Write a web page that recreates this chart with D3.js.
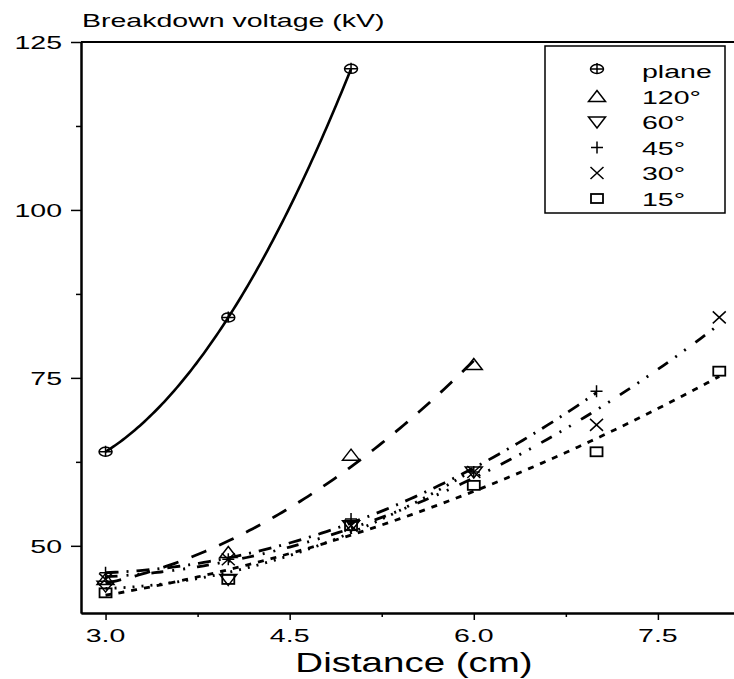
<!DOCTYPE html>
<html>
<head>
<meta charset="utf-8">
<script src="https://cdn.jsdelivr.net/npm/d3@7"></script>
<style>
  body { margin: 0; background: #fff; }
  text { font-family: "Liberation Sans", Arial, sans-serif; fill: #000; }
</style>
</head>
<body>
<div class="chart"></div>
<script>
//Data
var planeX = [3, 4, 5];
var planeY = [64, 84, 121];
var deg120X = [3, 4, 5, 6];
var deg120Y = [45, 49, 63.5, 77];
var deg60X = [3, 4, 5, 6];
var deg60Y = [44, 45, 53, 61];
var deg45X = [3, 4, 5, 6, 7];
var deg45Y = [46, 48, 54, 61, 73];
var deg30X = [3, 4, 5, 6, 7, 8];
var deg30Y = [45, 48, 53, 61, 68, 84];
var deg15X = [3, 4, 5, 6, 7, 8];
var deg15Y = [43, 45, 53, 59, 64, 76];

var seriesNames = ["plane", "120°", "60°", "45°", "30°", "15°"];
var xTicks = [3.0, 4.5, 6.0, 7.5];
var xMinorTicks = [3.75, 5.25, 6.75];
var yTicks = [50, 75, 100, 125];
var yMinorTicks = [62.5, 87.5, 112.5];

//Width and height
var w = 734;
var h = 679;
var sx = 1.5; //text in the picture is stretched sideways

var svg = d3.select(".chart")
    .append("svg")
    .attr("width", w)
    .attr("height", h);

var xScale = d3.scaleLinear().domain([2.8, 8.12]).range([81, 734]);
var yScale = d3.scaleLinear().domain([40, 125]).range([613, 42]);

var series = [
    { name: seriesNames[0], x: planeX, y: planeY, dash: null, marker: "plane" },
    { name: seriesNames[1], x: deg120X, y: deg120Y, dash: "16,14", marker: "up" },
    { name: seriesNames[2], x: deg60X, y: deg60Y, dash: "2,7", marker: "down" },
    { name: seriesNames[3], x: deg45X, y: deg45Y, dash: "13,8,2,8", marker: "plus" },
    { name: seriesNames[4], x: deg30X, y: deg30Y, dash: "12,9,2,9,2,12", marker: "cross" },
    { name: seriesNames[5], x: deg15X, y: deg15Y, dash: "6,7", marker: "square" }
];

//Quadratic least squares fit, as in the original figure
function quadFit(xs, ys) {
    var n = xs.length, m = d3.mean(xs);
    var u = xs.map(function (d) { return d - m; });
    var s2 = d3.sum(u, function (d) { return d * d; });
    var s3 = d3.sum(u, function (d) { return d * d * d; });
    var s4 = d3.sum(u, function (d) { return d * d * d * d; });
    var sy = d3.sum(ys);
    var suy = d3.sum(u, function (d, i) { return d * ys[i]; });
    var su2y = d3.sum(u, function (d, i) { return d * d * ys[i]; });
    // solve [n 0 s2; 0 s2 s3; s2 s3 s4] [a b c] = [sy suy su2y]
    var A = [[n, 0, s2, sy], [0, s2, s3, suy], [s2, s3, s4, su2y]];
    for (var i = 0; i < 3; i++) {
        for (var k = i + 1; k < 3; k++) {
            var f = A[k][i] / A[i][i];
            for (var j = i; j < 4; j++) A[k][j] -= f * A[i][j];
        }
    }
    var c = A[2][3] / A[2][2];
    var b = (A[1][3] - A[1][2] * c) / A[1][1];
    var a = (A[0][3] - A[0][1] * b - A[0][2] * c) / A[0][0];
    return function (x) { var t = x - m; return a + b * t + c * t * t; };
}

//Draw fit curves
series.forEach(function (s) {
    var fit = quadFit(s.x, s.y);
    var x0 = d3.min(s.x), x1 = d3.max(s.x);
    var xs = d3.range(0, 101).map(function (i) { return x0 + (x1 - x0) * i / 100; });
    svg.append("path")
        .datum(xs)
        .attr("fill", "none")
        .attr("stroke", "#000")
        .attr("stroke-width", s.dash ? 2.8 : 2.6)
        .attr("stroke-dasharray", s.dash)
        .attr("d", d3.line()
            .x(function (d) { return xScale(d); })
            .y(function (d) { return yScale(fit(d)); }));
});

//Marker drawing
function drawMarker(g, type, cx, cy) {
    var m = g.append("g")
        .attr("transform", "translate(" + cx + "," + cy + ")")
        .attr("fill", "none")
        .attr("stroke", "#000")
        .attr("stroke-width", 1.5);
    if (type === "plane") {
        m.append("ellipse").attr("rx", 6.5).attr("ry", 4.5);
        m.append("path").attr("d", "M-6.5,0H6.5M0,-6V4.5");
    } else if (type === "up") {
        m.append("path").attr("d", "M0,-6L8.5,5H-8.5Z");
    } else if (type === "down") {
        m.append("path").attr("d", "M0,6L8.5,-5H-8.5Z");
    } else if (type === "plus") {
        m.append("path").attr("d", "M-6,0H6M0,-6V6");
    } else if (type === "cross") {
        m.append("path").attr("d", "M-6.5,-6L6.5,6M-6.5,6L6.5,-6");
    } else if (type === "square") {
        m.append("rect").attr("x", -6).attr("y", -4.5).attr("width", 12).attr("height", 9)
            .attr("stroke-width", 1.8);
    }
}

series.forEach(function (s) {
    var g = svg.append("g");
    s.x.forEach(function (d, i) {
        drawMarker(g, s.marker, xScale(d), yScale(s.y[i]));
    });
});

//Axes (lines and ticks)
var axisStyle = function (g) {
    g.selectAll("path").attr("stroke-width", 2);
    g.selectAll("line").attr("stroke-width", 1.5);
};
svg.append("g")
    .attr("transform", "translate(81,0)")
    .call(d3.axisLeft(yScale).tickValues(yTicks).tickSize(10).tickSizeOuter(0).tickFormat(""))
    .call(axisStyle);
svg.append("g")
    .attr("transform", "translate(81,0)")
    .call(d3.axisLeft(yScale).tickValues(yMinorTicks).tickSize(5).tickSizeOuter(0).tickFormat(""))
    .call(axisStyle);
svg.append("g")
    .attr("transform", "translate(0,613)")
    .call(d3.axisBottom(xScale).tickValues(xTicks).tickSize(7).tickSizeOuter(0).tickFormat(""))
    .call(axisStyle);
svg.append("g")
    .attr("transform", "translate(0,613)")
    .call(d3.axisBottom(xScale).tickValues(xMinorTicks).tickSize(4).tickSizeOuter(0).tickFormat(""))
    .call(axisStyle);
//top border
svg.append("line")
    .attr("x1", 81).attr("x2", w)
    .attr("y1", yScale(125)).attr("y2", yScale(125))
    .attr("stroke", "#000").attr("stroke-width", 2);

//Stretched text helper
function addText(x, y, txt, size, anchor, scaleX) {
    return svg.append("text")
        .attr("transform", "translate(" + x + "," + y + ") scale(" + scaleX + ",1)")
        .attr("text-anchor", anchor)
        .style("font-size", size + "px")
        .text(txt);
}

yTicks.forEach(function (d) {
    addText(62, yScale(d) + 6.8, d, 19, "end", sx);
});
xTicks.forEach(function (d) {
    addText(xScale(d), 641.5, d3.format(".1f")(d), 19, "middle", sx);
});
addText(82, 27, "Breakdown voltage (kV)", 19, "start", sx);
addText(414, 672, "Distance (cm)", 27.5, "middle", 1.4);

//Legend
var legend = svg.append("g");
legend.append("rect")
    .attr("x", 545).attr("y", 46)
    .attr("width", 180).attr("height", 167)
    .attr("fill", "#fff")
    .attr("stroke", "#000")
    .attr("stroke-width", 1.5);
series.forEach(function (s, i) {
    var base = 78 + i * 25.5;
    drawMarker(legend, s.marker, 597, base - (i === 0 ? 9 : 7));
    addText(642, base, s.name, 19, "start", sx);
});
</script>
</body>
</html>
